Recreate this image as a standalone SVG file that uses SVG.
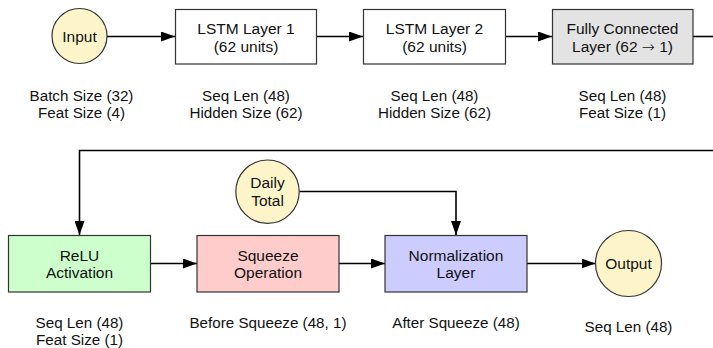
<svg xmlns="http://www.w3.org/2000/svg" width="713" height="348" viewBox="0 0 713 348">
  <style>
    .bg { fill: #ffffff; }
    .box { stroke: #333333; stroke-width: 1.2; }
    .term { fill: #fdf5c9; stroke: #333333; stroke-width: 1.2; }
    .plain { fill: #ffffff; }
    .fc { fill: #e3e3e3; }
    .relu { fill: #ccffcc; }
    .squeeze { fill: #ffcccc; }
    .norm { fill: #ccccff; }
    .wire { fill: none; stroke: #000000; stroke-width: 1.6; }
    text { font-family: "Liberation Sans", Arial, Helvetica, sans-serif; fill: #111111; text-anchor: middle; }
    .lbl { font-size: 15.5px; }
    .note { font-size: 15.2px; }
    .sym { font-family: "DejaVu Sans", sans-serif; font-weight: 200; }
  </style>
  <defs>
    <marker id="arrow" viewBox="0 0 14 10" refX="14" refY="5" markerWidth="14" markerHeight="10" markerUnits="userSpaceOnUse" orient="auto">
      <path d="M0,0 L14,5 L0,10 Z" fill="#000000"/>
    </marker>
  </defs>
  <rect class="bg" x="0" y="0" width="713" height="348"/>

  <!-- connectors -->
  <g id="connectors">
    <line class="wire" x1="107" y1="36.5" x2="175" y2="36.5" marker-end="url(#arrow)"/>
    <line class="wire" x1="317" y1="36.5" x2="363" y2="36.5" marker-end="url(#arrow)"/>
    <line class="wire" x1="506" y1="36.5" x2="552" y2="36.5" marker-end="url(#arrow)"/>
    <line class="wire" x1="693" y1="36.5" x2="713" y2="36.5"/>
    <polyline class="wire" points="713,150.5 79.5,150.5 79.5,235" marker-end="url(#arrow)"/>
    <line class="wire" x1="151" y1="263.5" x2="197" y2="263.5" marker-end="url(#arrow)"/>
    <line class="wire" x1="339" y1="263.5" x2="385" y2="263.5" marker-end="url(#arrow)"/>
    <polyline class="wire" points="299.5,191.5 456,191.5 456,235" marker-end="url(#arrow)"/>
    <line class="wire" x1="527" y1="263.5" x2="595.5" y2="263.5" marker-end="url(#arrow)"/>
  </g>

  <!-- input terminal -->
  <g id="input">
    <circle class="term" cx="79.5" cy="36" r="27.5"/>
    <text class="lbl" x="79.5" y="41.5">Input</text>
    <text class="note" x="81.5" y="100.7">Batch Size (32)</text>
    <text class="note" x="81.5" y="117.7">Feat Size (4)</text>
  </g>

  <g id="lstm1">
    <rect class="box plain" x="175.5" y="9.5" width="141" height="54.5"/>
    <text class="lbl" x="246" y="34.3">LSTM Layer 1</text>
    <text class="lbl" x="246" y="51.7">(62 units)</text>
    <text class="note" x="246" y="100.7">Seq Len (48)</text>
    <text class="note" x="246" y="117.7">Hidden Size (62)</text>
  </g>

  <g id="lstm2">
    <rect class="box plain" x="363.5" y="9.5" width="142" height="54.5"/>
    <text class="lbl" x="434.5" y="34.3">LSTM Layer 2</text>
    <text class="lbl" x="434.5" y="51.7">(62 units)</text>
    <text class="note" x="434.5" y="100.7">Seq Len (48)</text>
    <text class="note" x="434.5" y="117.7">Hidden Size (62)</text>
  </g>

  <g id="fully-connected">
    <rect class="box fc" x="552.5" y="9.5" width="140.5" height="54.5"/>
    <text class="lbl" x="622.5" y="34.3">Fully Connected</text>
    <text class="lbl" x="622.5" y="51.7">Layer (62 <tspan class="sym">→</tspan> 1)</text>
    <text class="note" x="622.5" y="100.7">Seq Len (48)</text>
    <text class="note" x="622.5" y="117.7">Feat Size (1)</text>
  </g>

  <g id="relu">
    <rect class="box relu" x="8.5" y="235.5" width="142" height="56.5"/>
    <text class="lbl" x="79.5" y="260.5">ReLU</text>
    <text class="lbl" x="79.5" y="278">Activation</text>
    <text class="note" x="79.5" y="328.3">Seq Len (48)</text>
    <text class="note" x="79.5" y="344.5">Feat Size (1)</text>
  </g>

  <g id="squeeze">
    <rect class="box squeeze" x="197" y="235.5" width="142" height="56.5"/>
    <text class="lbl" x="268" y="260.5">Squeeze</text>
    <text class="lbl" x="268" y="278">Operation</text>
    <text class="note" x="268" y="328.3">Before Squeeze (48, 1)</text>
  </g>

  <g id="daily-total">
    <circle class="term" cx="267.5" cy="191.7" r="31.7"/>
    <text class="lbl" x="267.5" y="188.3">Daily</text>
    <text class="lbl" x="267.5" y="206">Total</text>
  </g>

  <g id="normalization">
    <rect class="box norm" x="385" y="235.5" width="142" height="56.5"/>
    <text class="lbl" x="456" y="260.5">Normalization</text>
    <text class="lbl" x="456" y="278">Layer</text>
    <text class="note" x="456" y="328.3">After Squeeze (48)</text>
  </g>

  <g id="output">
    <circle class="term" cx="628.5" cy="263.5" r="33"/>
    <text class="lbl" x="628.5" y="269">Output</text>
    <text class="note" x="628.5" y="332">Seq Len (48)</text>
  </g>
</svg>
